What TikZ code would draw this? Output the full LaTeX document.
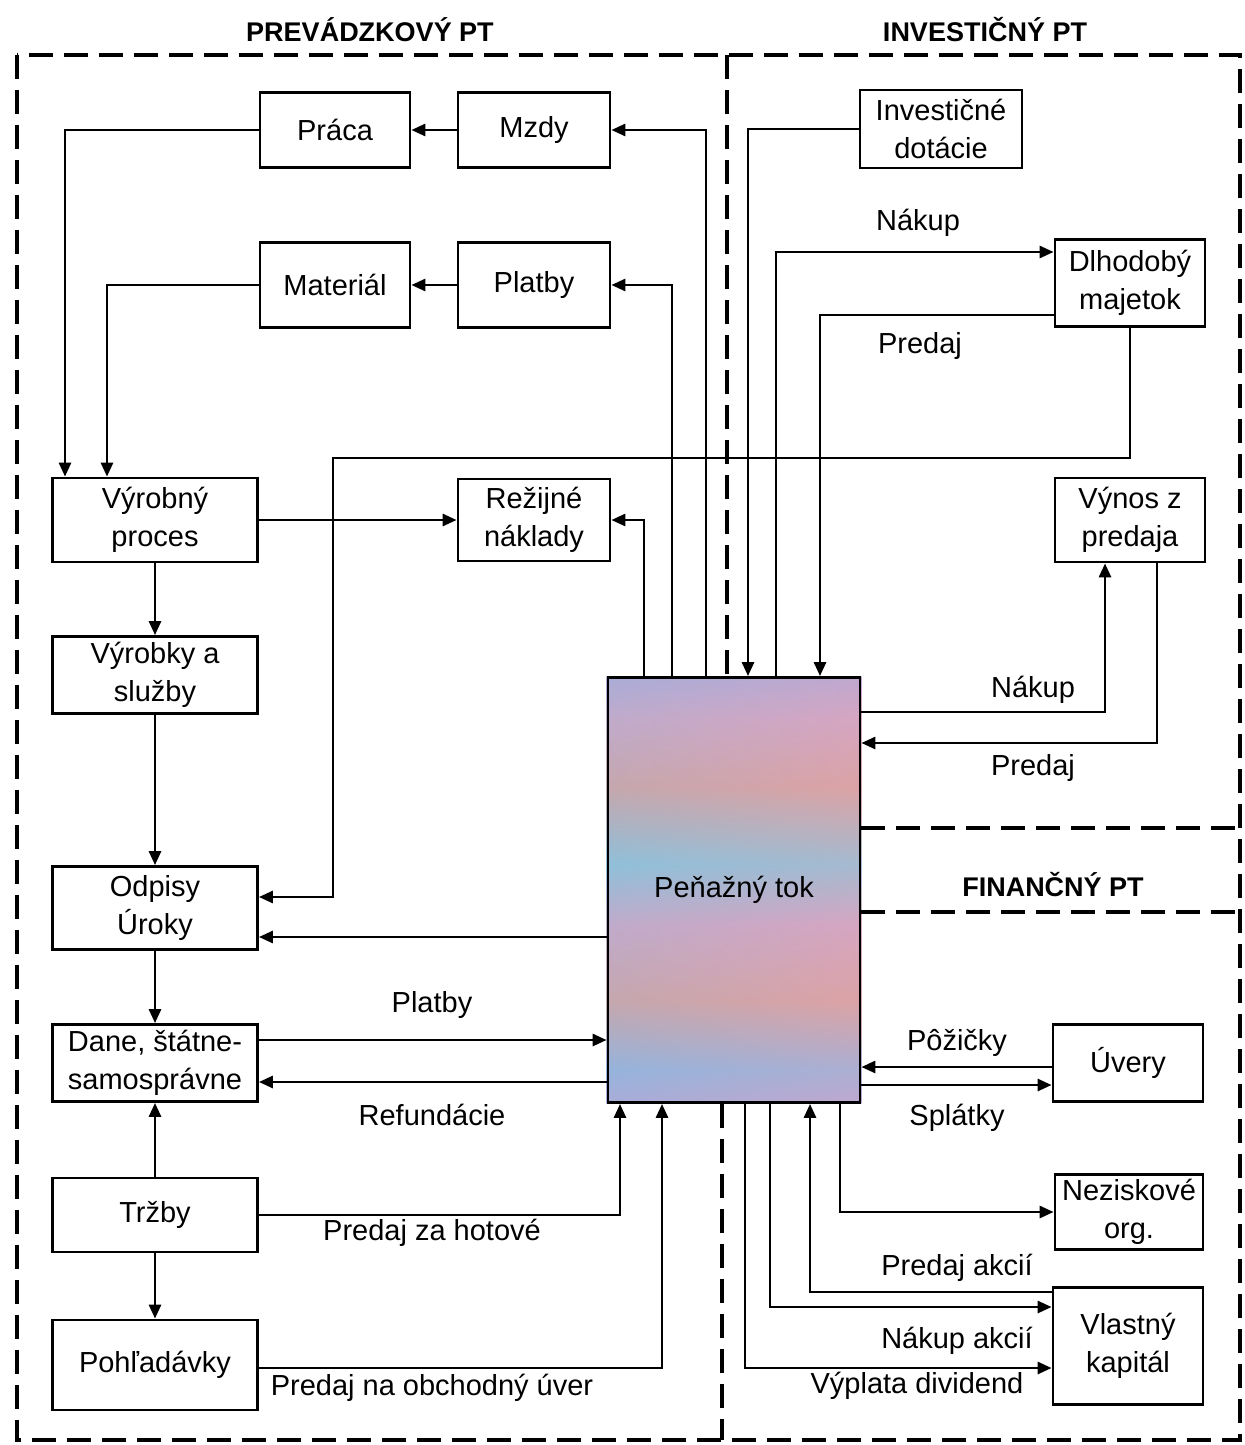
\documentclass[tikz,border=0pt]{standalone}
\usepackage{fontspec}
\setmainfont{Liberation Sans}
\usetikzlibrary{arrows.meta, backgrounds}
\definecolor{tLav}{HTML}{B4A9D6}
\definecolor{tCyan}{HTML}{8CC6D8}
\definecolor{tSalm}{HTML}{DFA196}
\definecolor{tPink}{HTML}{D6A6C2}
\definecolor{tBlue}{HTML}{96B4DC}
\pgfdeclareverticalshading{penazshade}{100bp}{color(0bp)=(tLav); color(25bp)=(tLav); color(29bp)=(tBlue);
  color(37bp)=(tSalm); color(46bp)=(tPink); color(53bp)=(tCyan); color(62bp)=(tSalm); color(70bp)=(tPink);
  color(75bp)=(tLav); color(100bp)=(tLav)}
\tikzset{
  blok/.style={draw, line width=1.4pt, inner sep=0pt, align=center, font=\fontsize{14.5}{19}\selectfont},
  popis/.style={inner sep=0pt, text height=0.72em, text depth=0.2em, font=\fontsize{14.5}{19}\selectfont},
  nadpis/.style={inner sep=0pt, font=\fontsize{13.5}{16}\selectfont\bfseries},
  tok/.style={line width=1.4pt, -{Triangle[length=7pt, width=6pt]}},
  ramec/.style={line width=2pt, dash pattern=on 12pt off 5.5pt},
}

\begin{document}
\begin{tikzpicture}[x=0.5pt, y=-0.5pt]
  \useasboundingbox (0,0) rectangle (1245,1445);

  % bloky
  \node[blok, minimum width=75pt, minimum height=37.5pt] (praca) at (335,130) {Práca};
  \node[blok, minimum width=76pt, minimum height=37.5pt] (mzdy) at (534,130) {Mzdy};
  \node[blok, minimum width=75pt, minimum height=42.5pt] (material) at (335,285) {Materiál};
  \node[blok, minimum width=76pt, minimum height=42.5pt] (platby) at (534,285) {Platby};
  \node[blok, minimum width=102.5pt, minimum height=42pt] (vyroba) at (155,520) {Výrobný\\proces};
  \node[blok, minimum width=76pt, minimum height=41pt] (rezia) at (534,520) {Režijné\\náklady};
  \node[blok, minimum width=102.5pt, minimum height=38.5pt] (vyrobky) at (155,675) {Výrobky a\\služby};
  \node[blok, minimum width=102.5pt, minimum height=41.5pt] (odpisy) at (155,908) {Odpisy\\Úroky};
  \node[blok, minimum width=102.5pt, minimum height=38.5pt] (dane) at (155,1063) {Dane, štátne-\\samosprávne};
  \node[blok, minimum width=102.5pt, minimum height=37pt] (trzby) at (155,1215) {Tržby};
  \node[blok, minimum width=102.5pt, minimum height=45pt] (pohladavky) at (155,1365) {Pohľadávky};
  \node[blok, minimum width=126pt, minimum height=212.5pt] (penaz) at (734,890) {Peňažný tok};
  \node[blok, minimum width=81pt, minimum height=39pt] (dotacie) at (941,129) {Investičné\\dotácie};
  \node[blok, minimum width=75pt, minimum height=43.5pt] (majetok) at (1130,283) {Dlhodobý\\majetok};
  \node[blok, minimum width=75pt, minimum height=42pt] (vynos) at (1130,520) {Výnos z\\predaja};
  \node[blok, minimum width=75pt, minimum height=38.5pt] (uvery) at (1128,1063) {Úvery};
  \node[blok, minimum width=74pt, minimum height=37.5pt] (nezisk) at (1129,1212) {Neziskové\\org.};
  \node[blok, minimum width=75pt, minimum height=58.5pt] (kapital) at (1128,1346) {Vlastný\\kapitál};

  \begin{scope}[on background layer]
    \shade[shading=penazshade] (penaz.south west) rectangle (penaz.north east);
    \shade[left color=tBlue, right color=tPink, opacity=0.35] (penaz.south west) rectangle (penaz.north east);
  \end{scope}

  % nadpisy
  \node[nadpis] (hPrev) at (370,30) {PREVÁDZKOVÝ PT};
  \node[nadpis] (hInv) at (985,30) {INVESTIČNÝ PT};
  \node[nadpis] (hFin) at (1053,885) {FINANČNÝ PT};

  % ramce
  \draw[ramec] (17,55) rectangle (1240,1440);
  \draw[ramec] (727,55) -- (penaz.north -| 727,0);
  \draw[ramec] (penaz.south -| 722,0) -- (722,1440);
  \draw[ramec] (penaz.east |- 0,828) -- (1240,828);
  \draw[ramec] (penaz.east |- 0,912) -- (1240,912);

  % prevadzkovy PT
  \coordinate (odbocka) at (333,458);
  \draw[tok] (penaz.north -| 706,0) |- (mzdy.east);
  \draw[tok] (penaz.north -| 672,0) |- (platby.east);
  \draw[tok] (penaz.north -| 644,0) |- (rezia.east);
  \draw[tok] (mzdy) -- (praca);
  \draw[tok] (platby) -- (material);
  \draw[tok] (praca.west) -| (vyroba.north -| 65,0);
  \draw[tok] (material.west) -| (vyroba.north -| 107,0);
  \draw[tok] (vyroba) -- (rezia);
  \draw[tok] (vyroba) -- (vyrobky);
  \draw[tok] (vyrobky) -- (odpisy);
  \draw[tok] (odpisy) -- (dane);
  \draw[tok] (trzby) -- (dane);
  \draw[tok] (trzby) -- (pohladavky);
  \draw[tok] (majetok.south) |- (odbocka) |- (odpisy.east |- 0,897);
  \draw[tok] (penaz.west |- 0,937) -- (odpisy.east |- 0,937);
  \draw[tok] (dane.east |- 0,1040) -- (penaz.west |- 0,1040);
  \draw[tok] (penaz.west |- 0,1082) -- (dane.east |- 0,1082);
  \draw[tok] (trzby.east) -| (penaz.south -| 620,0);
  \draw[tok] (pohladavky.east |- 0,1368) -| (penaz.south -| 662,0);

  % investicny PT
  \draw[tok] (dotacie.west) -| (penaz.north -| 748,0);
  \draw[tok] (penaz.north -| 776,0) |- (majetok.west |- 0,252);
  \draw[tok] (majetok.west |- 0,315) -| (penaz.north -| 820,0);
  \draw[tok] (penaz.east |- 0,712) -| (vynos.south -| 1105,0);
  \draw[tok] (vynos.south -| 1157,0) |- (penaz.east |- 0,743);

  % financny PT
  \draw[tok] (uvery.west |- 0,1067) -- (penaz.east |- 0,1067);
  \draw[tok] (penaz.east |- 0,1085) -- (uvery.west |- 0,1085);
  \draw[tok] (penaz.south -| 840,0) |- (nezisk.west);
  \draw[tok] (kapital.west |- 0,1292) -| (penaz.south -| 810,0);
  \draw[tok] (penaz.south -| 770,0) |- (kapital.west |- 0,1307);
  \draw[tok] (penaz.south -| 745,0) |- (kapital.west |- 0,1368);

  % popisy tokov
  \foreach \px/\py/\txt [count=\i] in {918/225/Nákup, 920/348/Predaj, 1033/692/Nákup, 1033/770/Predaj,
      432/1007/Platby, 432/1120/Refundácie, 432/1235/Predaj za hotové, 432/1390/Predaj na obchodný úver,
      957/1045/Pôžičky, 957/1120/Splátky, 957/1270/Predaj akcií, 957/1343/Nákup akcií, 917/1388/Výplata dividend}
    \node[popis] (popis\i) at (\px,\py) {\txt};
\end{tikzpicture}
\end{document}
